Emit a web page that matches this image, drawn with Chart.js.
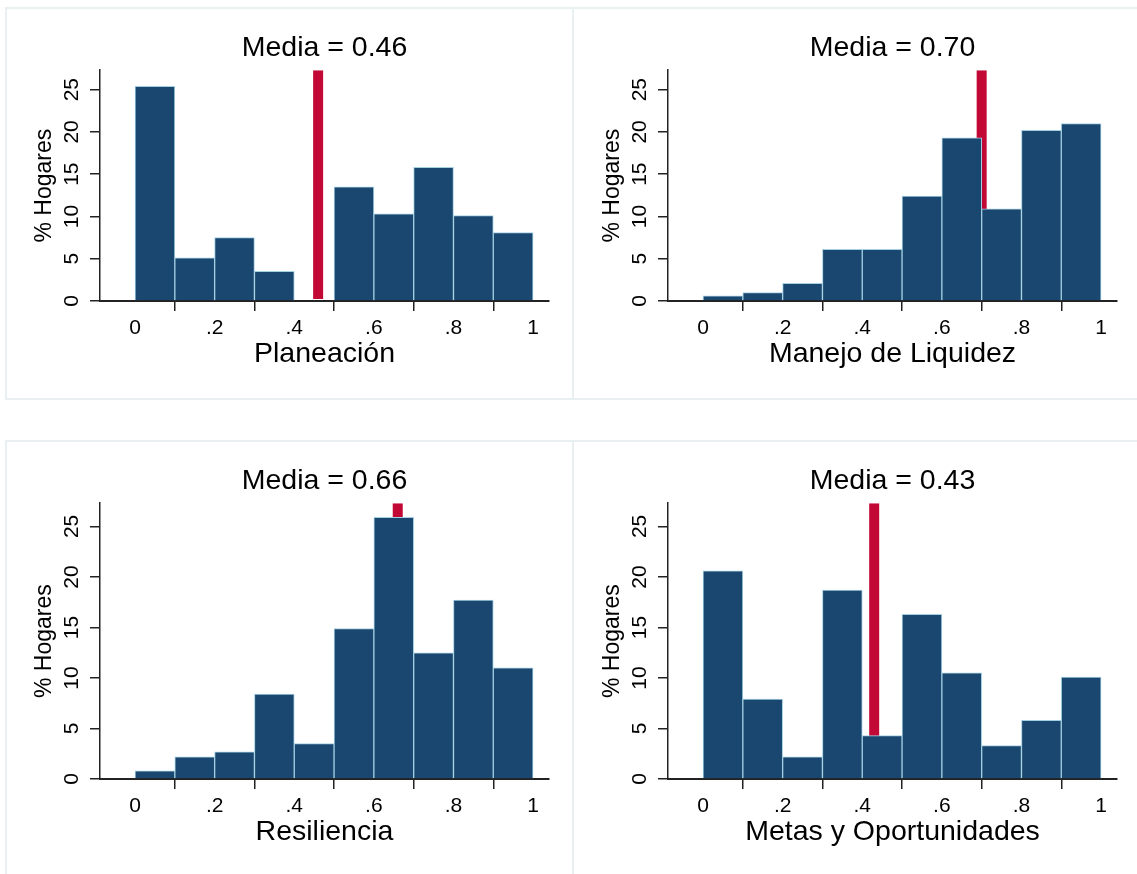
<!DOCTYPE html>
<html lang="es">
<head>
<meta charset="utf-8">
<title>Histogramas por componente</title>
<script src="https://cdn.jsdelivr.net/npm/chart.js@4.4.1/dist/chart.umd.min.js"></script>
<style>
    html, body { margin: 0; padding: 0; background: #fff; overflow: hidden; }
    body { position: relative; width: 1137px; height: 874px; }
    .panel { position: absolute; box-sizing: border-box; border: 2px solid #e9f0f2; }
    .plot { position: absolute; }
</style>
</head>
<body>
<script>
// bin midpoints (width .1) and % of households per bin
const binMids = [0.05, 0.15, 0.25, 0.35, 0.45, 0.55, 0.65, 0.75, 0.85, 0.95];
const planeacion = [25.4, 5.1, 7.5, 3.5, 0, 13.5, 10.3, 15.8, 10.1, 8.1];
const liquidez = [0.6, 1.0, 2.1, 6.1, 6.1, 12.4, 19.3, 10.9, 20.2, 21.0];
const resiliencia = [0.8, 2.2, 2.7, 8.4, 3.5, 14.9, 25.9, 12.5, 17.7, 11.0];
const metas = [20.6, 7.9, 2.2, 18.7, 4.3, 16.3, 10.5, 3.3, 5.8, 10.1];

const medias = [0.46, 0.70, 0.66, 0.43];
const panelNames = ['Planeación', 'Manejo de Liquidez', 'Resiliencia', 'Metas y Oportunidades'];

const xTickValues = [0, 0.2, 0.4, 0.6, 0.8, 1];
const xTickLabels = ['0', '.2', '.4', '.6', '.8', '1'];
const yTickValues = [0, 5, 10, 15, 20, 25];
const xMin = -0.088;
const xMax = 1.04;
const yMax = 27.3;

const FONT = "'Liberation Sans', Arial, Helvetica, sans-serif";
const barFill = '#1a476f';
const barEdge = '#a3cfe2';
const meanRed = '#c20834';
const axisColor = '#222';

Chart.defaults.font.family = FONT;
Chart.defaults.color = '#000';

// panel frames and canvases (page coordinates)
const frames = [
    { left: 5, top: 7, width: 569, height: 393 },
    { left: 572, top: 7, width: 570, height: 393 },
    { left: 5, top: 440, width: 569, height: 440 },
    { left: 572, top: 440, width: 570, height: 440 }
];
const plots = [
    { values: planeacion, left: 6, top: 8, height: 391 },
    { values: liquidez, left: 574, top: 8, height: 391 },
    { values: resiliencia, left: 6, top: 441, height: 436 },
    { values: metas, left: 574, top: 441, height: 436 }
];

frames.forEach(f => {
    const d = document.createElement('div');
    d.className = 'panel';
    d.style.cssText = `left:${f.left}px;top:${f.top}px;width:${f.width}px;height:${f.height}px`;
    document.body.appendChild(d);
});

function makeHistogram(canvas, values, media, name) {
    return new Chart(canvas, {
        type: 'bar',
        data: {
            datasets: [
                {
                    type: 'bar',
                    data: binMids.map((x, i) => ({ x, y: values[i] })),
                    backgroundColor: barFill,
                    borderColor: barEdge,
                    borderWidth: 1,
                    barPercentage: 1,
                    categoryPercentage: 1,
                    order: 1
                },
                {
                    // mean marker, drawn behind the bars
                    type: 'line',
                    data: [{ x: media, y: 0 }, { x: media, y: yMax }],
                    borderColor: meanRed,
                    borderWidth: 10,
                    pointRadius: 0,
                    clip: { left: 0, right: 0, top: 0, bottom: -2 },
                    order: 2
                }
            ]
        },
        options: {
            responsive: false,
            animation: false,
            events: [],
            layout: { padding: { left: 0, right: 23, top: 0, bottom: 0 } },
            plugins: {
                legend: { display: false },
                tooltip: { enabled: false },
                title: {
                    display: true,
                    text: 'Media = ' + media.toFixed(2),
                    fullSize: false,
                    color: '#000',
                    font: { size: 28.5, weight: 'normal' },
                    padding: { top: 23, bottom: 5 }
                }
            },
            scales: {
                x: {
                    type: 'linear',
                    min: xMin,
                    max: xMax,
                    offset: false,
                    z: 1,
                    afterBuildTicks: s => { s.ticks = xTickValues.map(v => ({ value: v })); },
                    afterFit: s => { s.height = 98; },
                    ticks: {
                        autoSkip: false,
                        maxRotation: 0,
                        color: '#000',
                        padding: 5,
                        font: { size: 21 },
                        callback: (v, i) => xTickLabels[i]
                    },
                    grid: { drawOnChartArea: false, tickLength: 10, color: axisColor, lineWidth: 1.5 },
                    border: { color: axisColor, width: 2 },
                    title: {
                        display: true,
                        text: name,
                        color: '#000',
                        font: { size: 28.5 },
                        padding: { top: 0, bottom: 28 }
                    }
                },
                y: {
                    min: 0,
                    max: yMax,
                    z: 1,
                    afterBuildTicks: s => { s.ticks = yTickValues.map(v => ({ value: v })); },
                    afterFit: s => { s.width = 94; },
                    ticks: {
                        color: '#000',
                        padding: 6,
                        font: { size: 21 },
                        minRotation: 90,
                        maxRotation: 90,
                        crossAlign: 'center',
                        callback: v => String(v)
                    },
                    grid: { drawOnChartArea: false, tickLength: 10, color: axisColor, lineWidth: 1.5 },
                    border: { color: axisColor, width: 1.5 },
                    title: {
                        display: true,
                        text: '% Hogares',
                        color: '#000',
                        font: { size: 23 },
                        padding: { top: 25, bottom: 0 }
                    }
                }
            }
        }
    });
}

plots.forEach((p, i) => {
    const c = document.createElement('canvas');
    c.className = 'plot';
    c.width = 566;
    c.height = p.height;
    c.style.cssText = `left:${p.left}px;top:${p.top}px;width:566px;height:${p.height}px`;
    document.body.appendChild(c);
    makeHistogram(c, p.values, medias[i], panelNames[i]);
});
</script>
</body>
</html>
